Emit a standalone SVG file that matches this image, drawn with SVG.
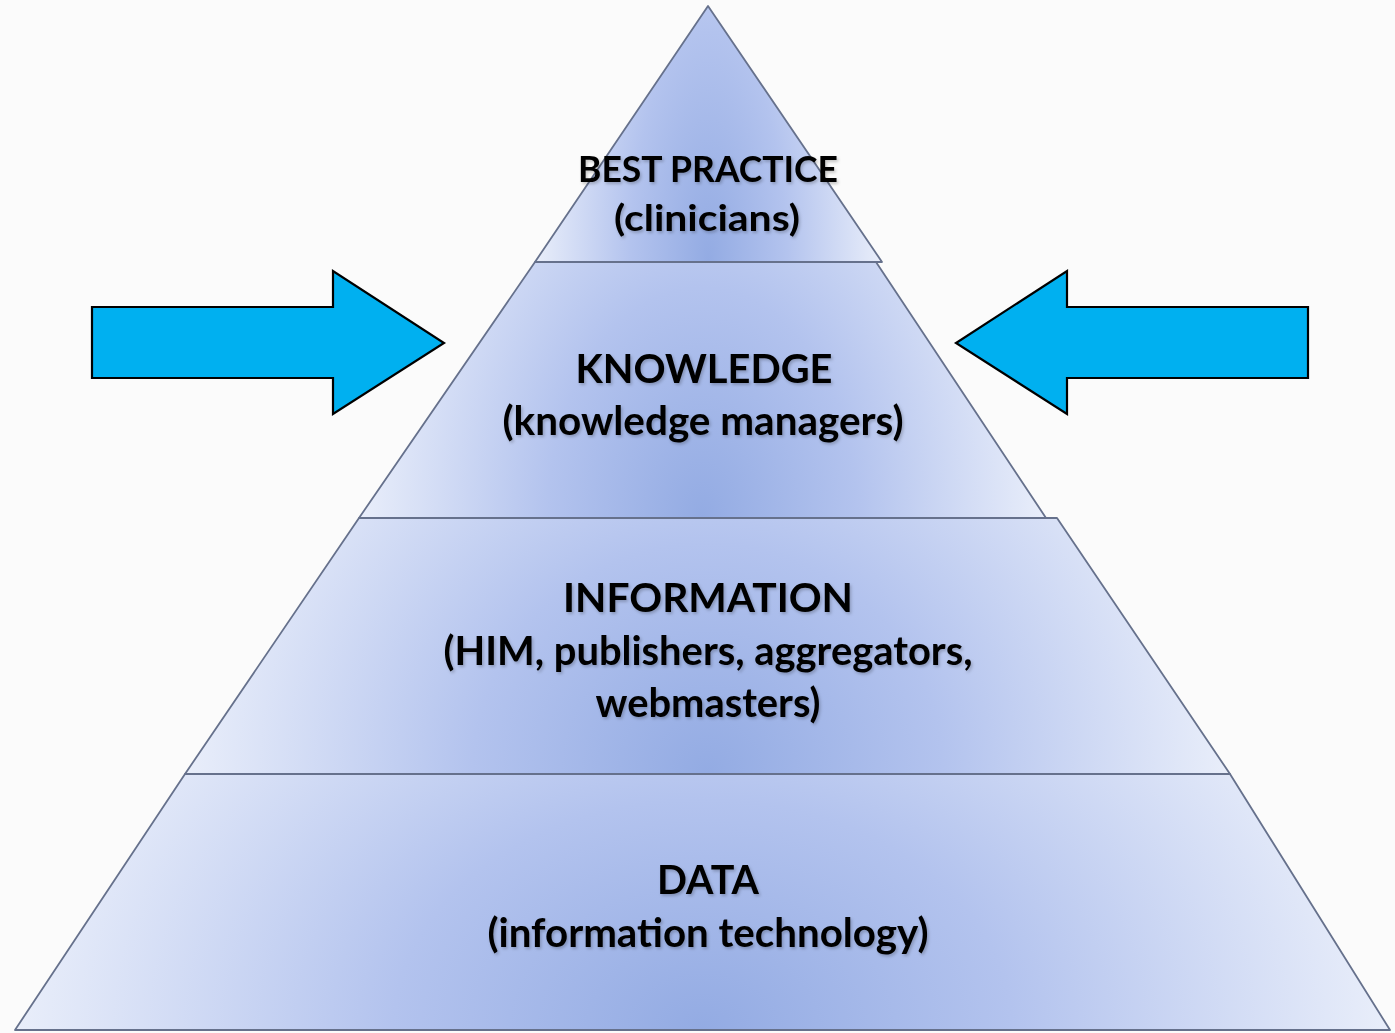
<svg xmlns="http://www.w3.org/2000/svg" width="1395" height="1033" viewBox="0 0 1395 1033">
<defs>
<radialGradient id="lg" cx="0.5" cy="1" r="0.5" gradientTransform="translate(0.5,1) scale(1,4) translate(-0.5,-1)">
<stop offset="0" stop-color="#93abe3"/>
<stop offset="0.45" stop-color="#b3c3ee"/>
<stop offset="1" stop-color="#e9eefa"/>
</radialGradient>
<filter id="ts" x="-10%" y="-30%" width="120%" height="160%">
<feDropShadow dx="1.5" dy="2" stdDeviation="1.5" flood-color="#000" flood-opacity="0.22"/>
</filter>
</defs>
<style>
.layer{fill:url(#lg);stroke:#66718c;stroke-width:1.8;stroke-linejoin:round}
.arrow{fill:#00b0f0;stroke:#000;stroke-width:2.2;stroke-linejoin:miter}
.t{font-family:Lato,"Liberation Sans",sans-serif;font-weight:700;fill:#000;text-anchor:middle;filter:url(#ts)}
</style>
<rect width="1395" height="1033" fill="#fbfbfb"/>
<g id="data">
<polygon class="layer" points="185,774 1230,774 1390,1030 15,1030"/>
<text class="t" x="708" y="894" font-size="41" textLength="102" lengthAdjust="spacingAndGlyphs">DATA</text>
<text class="t" x="708" y="947" font-size="40" textLength="441" lengthAdjust="spacingAndGlyphs">(information technology)</text>
</g>
<g id="information">
<polygon class="layer" points="359,518 1057,518 1230,774 185,774"/>
<text class="t" x="708" y="612" font-size="41" textLength="290" lengthAdjust="spacingAndGlyphs">INFORMATION</text>
<text class="t" x="708" y="665" font-size="40" textLength="529" lengthAdjust="spacingAndGlyphs">(HIM, publishers, aggregators,</text>
<text class="t" x="708" y="717" font-size="40" textLength="225" lengthAdjust="spacingAndGlyphs">webmasters)</text>
</g>
<g id="knowledge">
<polygon class="layer" points="535,262 876,262 1046,518 359,518"/>
<text class="t" x="704" y="383" font-size="41" textLength="257" lengthAdjust="spacingAndGlyphs">KNOWLEDGE</text>
<text class="t" x="703" y="435" font-size="40" textLength="401" lengthAdjust="spacingAndGlyphs">(knowledge managers)</text>
</g>
<g id="best-practice">
<polygon class="layer" points="708,6 882,262 535,262"/>
<text class="t" x="708" y="182" font-size="37" textLength="260" lengthAdjust="spacingAndGlyphs">BEST PRACTICE</text>
<text class="t" x="707" y="231" font-size="37" textLength="186" lengthAdjust="spacingAndGlyphs">(clinicians)</text>
</g>
<g id="connectors">
<path id="arrow-left" class="arrow" d="M92,307 L333,307 L333,271 L444,343 L333,414 L333,378 L92,378 Z"/>
<path id="arrow-right" class="arrow" d="M1308,307 L1067,307 L1067,271 L956,343 L1067,414 L1067,378 L1308,378 Z"/>
</g>
</svg>
